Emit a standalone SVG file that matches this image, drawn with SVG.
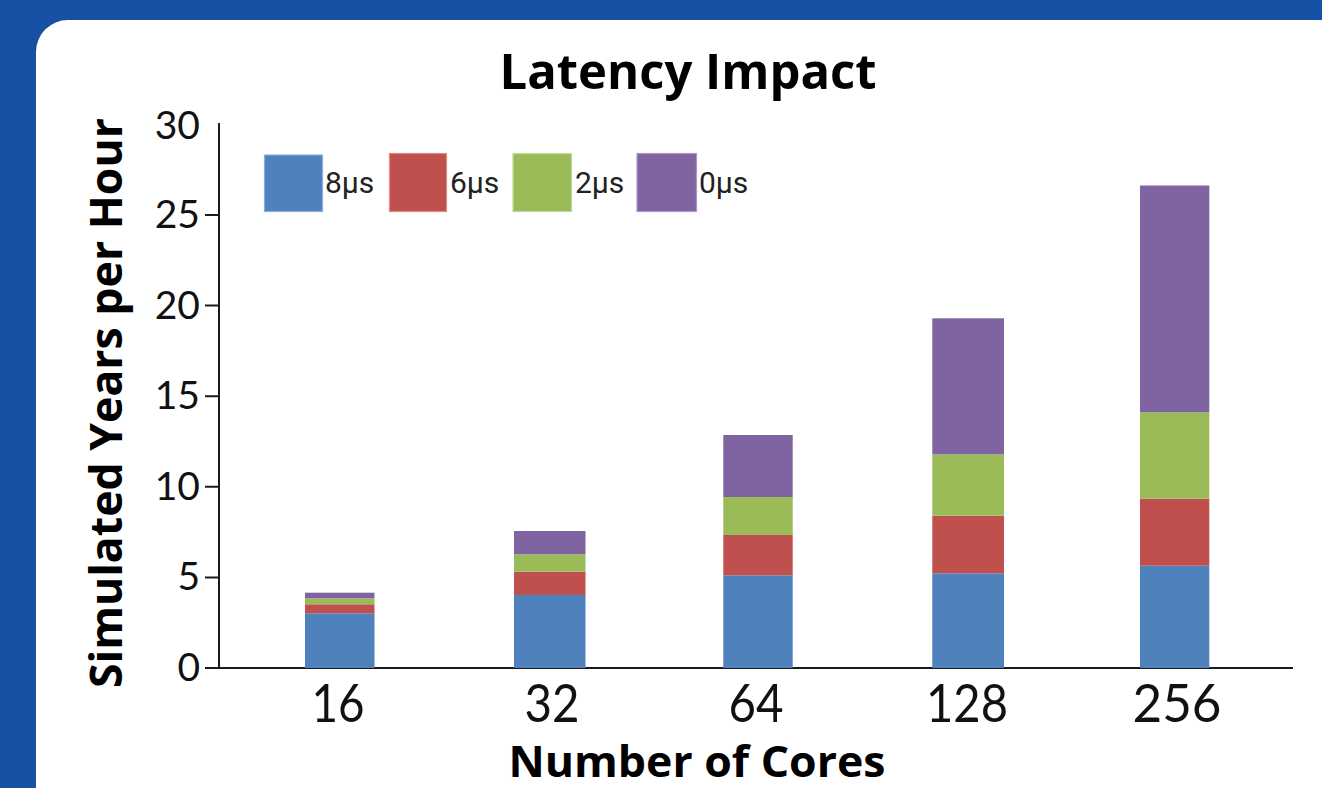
<svg xmlns="http://www.w3.org/2000/svg" width="1322" height="788" viewBox="0 0 1322 788">
<style>
.ax{stroke:#1a1a1a;stroke-width:2;fill:none}
.yt{font-family:Lato,"Open Sans",sans-serif;font-size:39px;fill:#111;text-anchor:end}
.xt{font-family:Lato,"Open Sans",sans-serif;font-size:53px;fill:#111;text-anchor:middle}
.ttl{font-family:"Open Sans",Lato,sans-serif;font-weight:bold;fill:#000;text-anchor:middle}
.lg{font-family:Roboto,"Liberation Sans",sans-serif;font-size:30px;fill:#222}
.b8{fill:#4F81BD}.b6{fill:#C0504D}.b2{fill:#9BBB59}.b0{fill:#8064A2}
.sw{stroke-width:1.2}
</style>
<rect x="0" y="0" width="1322" height="788" fill="#1651A6"/>
<rect x="36" y="20" width="1400" height="900" rx="32" fill="#ffffff"/>
<g id="title"><text class="ttl" x="688" y="89" font-size="49" textLength="377" lengthAdjust="spacingAndGlyphs">Latency Impact</text></g>
<g id="y-axis-title"><text class="ttl" font-size="45" transform="translate(122,403) rotate(-90)" textLength="570" lengthAdjust="spacingAndGlyphs">Simulated Years per Hour</text></g>
<g id="x-axis-title"><text class="ttl" x="697" y="777" font-size="43" textLength="377" lengthAdjust="spacingAndGlyphs">Number of Cores</text></g>
<g id="axes">
<path class="ax" d="M219 123V668M205 668H1293"/>
<path class="ax" d="M205 577.4H219M205 486.8H219M205 396.2H219M205 305.6H219M205 215H219"/>
</g>
<g id="y-ticks">
<text class="yt" x="200" y="681">0</text>
<text class="yt" x="200" y="590.4">5</text>
<text class="yt" x="200" y="499.8">10</text>
<text class="yt" x="200" y="409.2">15</text>
<text class="yt" x="200" y="318.6">20</text>
<text class="yt" x="200" y="228">25</text>
<text class="yt" x="200" y="139">30</text>
</g>
<g id="x-ticks">
<text class="xt" x="338" y="722" textLength="53" lengthAdjust="spacingAndGlyphs">16</text>
<text class="xt" x="552" y="722" textLength="55" lengthAdjust="spacingAndGlyphs">32</text>
<text class="xt" x="756" y="722" textLength="55" lengthAdjust="spacingAndGlyphs">64</text>
<text class="xt" x="967" y="722" textLength="82" lengthAdjust="spacingAndGlyphs">128</text>
<text class="xt" x="1177" y="722" textLength="89" lengthAdjust="spacingAndGlyphs">256</text>
</g>
<g id="bar-16">
<rect class="b8" x="305" y="613.3" width="69.5" height="54.7"/>
<rect class="b6" x="305" y="604.3" width="69.5" height="9"/>
<rect class="b2" x="305" y="598.3" width="69.5" height="6"/>
<rect class="b0" x="305" y="592.7" width="69.5" height="5.6"/>
</g>
<g id="bar-32">
<rect class="b8" x="514" y="595" width="71.5" height="73"/>
<rect class="b6" x="514" y="571.7" width="71.5" height="23.3"/>
<rect class="b2" x="514" y="554.3" width="71.5" height="17.4"/>
<rect class="b0" x="514" y="531" width="71.5" height="23.3"/>
</g>
<g id="bar-64">
<rect class="b8" x="723.3" y="575.3" width="69.4" height="92.7"/>
<rect class="b6" x="723.3" y="535" width="69.4" height="40.3"/>
<rect class="b2" x="723.3" y="497" width="69.4" height="38"/>
<rect class="b0" x="723.3" y="435" width="69.4" height="62"/>
</g>
<g id="bar-128">
<rect class="b8" x="932.3" y="573.3" width="71.7" height="94.7"/>
<rect class="b6" x="932.3" y="515.7" width="71.7" height="57.6"/>
<rect class="b2" x="932.3" y="454.3" width="71.7" height="61.4"/>
<rect class="b0" x="932.3" y="318.3" width="71.7" height="136"/>
</g>
<g id="bar-256">
<rect class="b8" x="1140" y="565.7" width="69.3" height="102.3"/>
<rect class="b6" x="1140" y="498.7" width="69.3" height="67"/>
<rect class="b2" x="1140" y="412.3" width="69.3" height="86.4"/>
<rect class="b0" x="1140" y="185.5" width="69.3" height="226.8"/>
</g>
<g id="legend">
<rect class="b8 sw" x="264.5" y="155" width="58" height="56.5" stroke="#8aaedb"/>
<text class="lg" x="325" y="193">8μs</text>
<rect class="b6 sw" x="389.5" y="153.5" width="57" height="58" stroke="#dc8a88"/>
<text class="lg" x="450" y="193">6μs</text>
<rect class="b2 sw" x="513" y="153.5" width="58.5" height="58" stroke="#c3d89b"/>
<text class="lg" x="575" y="193">2μs</text>
<rect class="b0 sw" x="637" y="153.5" width="59.5" height="58" stroke="#ab98c6"/>
<text class="lg" x="699" y="193">0μs</text>
</g>
</svg>
